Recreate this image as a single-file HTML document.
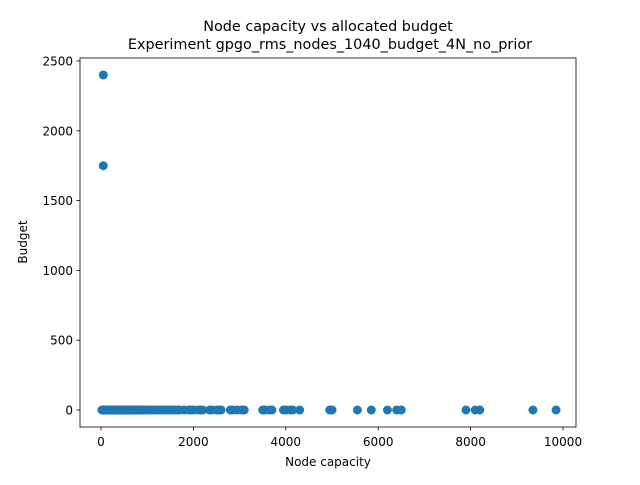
<!DOCTYPE html>
<html><head><meta charset="utf-8"><style>
body{margin:0;background:#fff;}
svg text{font-family:"DejaVu Sans","Liberation Sans",sans-serif;fill:#000;}
</style></head><body>
<svg id="chart" width="640" height="480">
<rect width="640" height="480" fill="#fff"/>
<text x="328" y="31" font-size="14.4" text-anchor="middle">Node capacity vs allocated budget</text>
<text x="330" y="49" font-size="14.4" text-anchor="middle">Experiment gpgo_rms_nodes_1040_budget_4N_no_prior</text>
<g id="marks"></g>
<rect x="80" y="58" width="496" height="369" fill="none" stroke="#000" stroke-width="0.8"/>
<g id="axes"></g>
<text x="328" y="466" font-size="12" text-anchor="middle">Node capacity</text>
<text transform="translate(27,242) rotate(-90)" font-size="12" text-anchor="middle">Budget</text>
</svg>
<script>
const capacities=[20,40,50,60,80,100,120,140,160,180,200,215,230,245,260,280,300,315,330,345,360,380,400,415,430,450,470,485,500,520,540,560,580,600,620,640,660,680,700,720,740,760,780,800,820,840,860,880,900,925,950,975,1000,1050,1100,1150,1200,1250,1300,1350,1400,1450,1500,1550,1600,1650,1700,1800,1900,1950,2000,2100,2150,2200,2350,2400,2500,2550,2600,2800,2850,2950,3050,3100,3500,3550,3650,3700,3950,4000,4100,4150,4300,4950,5000,5550,5850,6200,6400,6500,7900,8100,8200,9350,9850,50,50];
const budgets=capacities.map((c,i)=>0);
budgets[budgets.length-2]=2400;
budgets[budgets.length-1]=1750;
const xTicks=[0,2000,4000,6000,8000,10000];
const yTicks=[0,500,1000,1500,2000,2500];
const ns="http://www.w3.org/2000/svg";
const xs=v=>101+v*0.0462;
const ys=v=>410-v*0.1396;
const marks=document.getElementById('marks');
for(let i=0;i<capacities.length;i++){
 const c=document.createElementNS(ns,'circle');
 c.setAttribute('cx',xs(capacities[i]));c.setAttribute('cy',ys(budgets[i]));c.setAttribute('r',4.5);c.setAttribute('fill','#1f77b4');
 
 
 marks.appendChild(c);
}
const axes=document.getElementById('axes');
xTicks.forEach(t=>{
 const l=document.createElementNS(ns,'line');
 l.setAttribute('x1',xs(t));l.setAttribute('x2',xs(t));l.setAttribute('y1',427);l.setAttribute('y2',430.5);l.setAttribute('stroke','#000');l.setAttribute('stroke-width','0.8');
 
 
 axes.appendChild(l);
 const tx=document.createElementNS(ns,'text');
 tx.setAttribute('x',xs(t));tx.setAttribute('y',446);tx.setAttribute('font-size','12');tx.setAttribute('text-anchor','middle');tx.textContent=t;
 
 
 axes.appendChild(tx);
});
yTicks.forEach(t=>{
 const l=document.createElementNS(ns,'line');
 l.setAttribute('x1',76.5);l.setAttribute('x2',80);l.setAttribute('y1',ys(t));l.setAttribute('y2',ys(t));l.setAttribute('stroke','#000');l.setAttribute('stroke-width','0.8');
 
 
 axes.appendChild(l);
 const tx=document.createElementNS(ns,'text');
 tx.setAttribute('x',73);tx.setAttribute('y',ys(t)+4.5);tx.setAttribute('font-size','12');tx.setAttribute('text-anchor','end');tx.textContent=t;
 
 
 axes.appendChild(tx);
});
</script>
</body></html>
